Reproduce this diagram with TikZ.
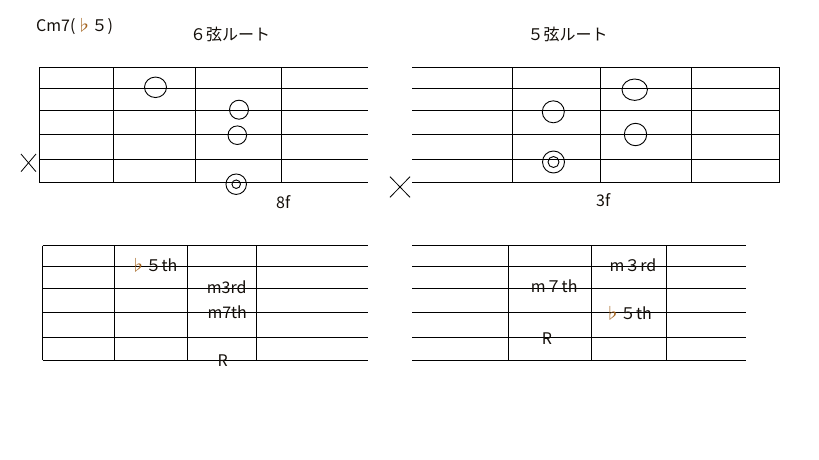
\documentclass[tikz,border=0pt]{standalone}
\usepackage{fontspec}
\usetikzlibrary{shapes.geometric}
\setmainfont{Noto Sans CJK JP}
\definecolor{flatc}{RGB}{165,100,30}
\definecolor{txt}{RGB}{20,15,10}
\newcommand{\flt}{\textcolor{flatc}{♭}}
\begin{document}
\begin{tikzpicture}[x=1pt,y=-1pt,
  grid/.style={line width=1pt,black},
  dot/.style={draw,line width=0.9pt,circle,inner sep=0pt},
  lbl/.style={anchor=base west,inner sep=0pt,font=\fontsize{16}{16}\selectfont,text=txt},
  xmark/.style={line width=0.8pt}]
\useasboundingbox (0,0) rectangle (819,460);
\fill[white] (0,0) rectangle (819,460);

% ---- top-left fretboard (6th string root)
\foreach \y in {67.5,88.5,110.5,134.5,159.5,182.5}
  \draw[grid] (39.5,\y) -- (367.5,\y);
\foreach \x in {39.5,113.5,195.5,281.5}
  \draw[grid] (\x,67.5) -- (\x,182.5);

% ---- top-right fretboard (5th string root)
\foreach \y in {67.5,88.5,110.5,134.5,159.5,182.5}
  \draw[grid] (412,\y) -- (779.5,\y);
\foreach \x in {512.5,600.5,691.5,779.5}
  \draw[grid] (\x,67.5) -- (\x,182.5);

% ---- bottom-left fretboard
\foreach \y in {245.5,266,288.5,312.5,337.5,360}
  \draw[grid] (42.5,\y) -- (367.5,\y);
\foreach \x in {42.5,114.5,187.5,256.5}
  \draw[grid] (\x,245.5) -- (\x,360);

% ---- bottom-right fretboard
\foreach \y in {245.5,266,288.5,312.5,337.5,360}
  \draw[grid] (412,\y) -- (746,\y);
\foreach \x in {508.5,591.5,666.5}
  \draw[grid] (\x,245.5) -- (\x,360);

% ---- finger dots, top-left
\node[dot,ellipse,minimum width=22pt,minimum height=20.5pt] (a1) at (155.5,87.3) {};
\node[dot,minimum size=19pt] (a2) at (239,109.7) {};
\node[dot,minimum size=18.6pt] (a3) at (237.3,135.2) {};
\node[dot,minimum size=20.5pt] (a4) at (236.2,184.2) {};
\node[dot,minimum size=8.5pt] (a4i) at (236.2,184.2) {};

% ---- finger dots, top-right
\node[dot,minimum size=22pt] (b1) at (553.3,111.8) {};
\node[dot,ellipse,minimum width=25.4pt,minimum height=21.4pt] (b2) at (634.7,89.7) {};
\node[dot,minimum size=22.4pt] (b3) at (635.5,134.5) {};
\node[dot,minimum size=22pt] (b4) at (553.5,162) {};
\node[dot,minimum size=11pt] (b4i) at (553.5,162) {};

% ---- muted-string marks
\coordinate (xa1) at (21,154);   \coordinate (xa2) at (36,171.7);
\coordinate (xa3) at (21,171.7); \coordinate (xa4) at (36,154);
\draw[xmark] (xa1) -- (xa2); \draw[xmark] (xa3) -- (xa4);
\coordinate (xb1) at (390,176.7); \coordinate (xb2) at (410,197.3);
\coordinate (xb3) at (390,197.3); \coordinate (xb4) at (410,176.7);
\draw[xmark] (xb1) -- (xb2); \draw[xmark] (xb3) -- (xb4);

% ---- titles and fret numbers
\node[lbl] (title) at (36,31.5) {Cm7(\flt５)};
\node[lbl] (t6) at (190,41) {６弦ルート};
\node[lbl] (t5) at (527.5,40.5) {５弦ルート};
\node[lbl] (f8) at (276,208) {8f};
\node[lbl] (f3) at (596,206.5) {3f};

% ---- interval labels, bottom-left
\node[lbl] (l5) at (129.3,271.5) {\flt５th};
\node[lbl] (l3) at (206.7,293.5) {m3rd};
\node[lbl] (l7) at (207.3,318) {m7th};
\node[lbl] (lR) at (217.3,366.5) {R};

% ---- interval labels, bottom-right
\node[lbl] (r3) at (609.3,271.5) {m３rd};
\node[lbl] (r7) at (530.7,292.5) {m７th};
\node[lbl] (r5) at (604,319) {\flt５th};
\node[lbl] (rR) at (541.7,344) {R};
\end{tikzpicture}
\end{document}
